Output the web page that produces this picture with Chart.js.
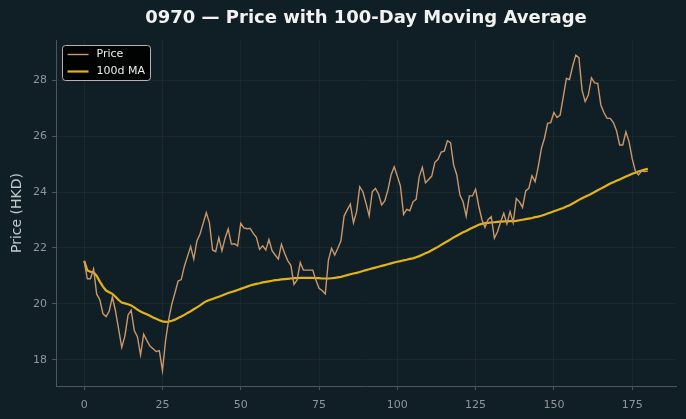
<!DOCTYPE html>
<html>
<head>
<meta charset="utf-8">
<script src="https://cdn.jsdelivr.net/npm/chart.js@4.4.1/dist/chart.umd.min.js"></script>
<style>
    html, body { margin: 0; padding: 0; background: #101f25; }
    #wrap { width: 686px; height: 419px; }
</style>
</head>
<body>
<div id="wrap"><canvas id="chart"></canvas></div>
<script>
    var TITLE = '0970 — Price with 100-Day Moving Average';
    var Y_LABEL = 'Price (HKD)';

    // daily close, day 0..180
    var price = [
        21.54, 20.9, 20.9, 21.25, 20.35, 20.15, 19.65, 19.55, 19.75, 20.25,
        19.75, 19.1, 18.45, 18.85, 19.6, 19.78, 19.05, 18.83, 18.18, 18.92,
        18.7, 18.5, 18.4, 18.3, 18.33, 17.62, 18.7, 19.45, 20.0, 20.4,
        20.82, 20.87, 21.35, 21.7, 22.05, 21.6, 22.25, 22.5, 22.88, 23.26,
        22.9, 21.93, 21.87, 22.37, 21.9, 22.35, 22.68, 22.14, 22.15, 22.08,
        22.88, 22.72, 22.69, 22.7, 22.52, 22.38, 21.95, 22.08, 21.93, 22.3,
        21.9, 21.75, 21.6, 22.13, 21.81, 21.55, 21.38, 20.7, 20.86, 21.48,
        21.21, 21.21, 21.21, 21.21, 20.86, 20.56, 20.48, 20.36, 21.57, 21.99,
        21.75, 21.99, 22.26, 23.14, 23.36, 23.57, 22.9, 23.3, 24.19, 24.01,
        23.6, 23.15, 24.01, 24.13, 23.93, 23.54, 23.68, 24.07, 24.61, 24.9,
        24.57, 24.21, 23.2, 23.38, 23.33, 23.65, 23.74, 24.55, 24.88, 24.33,
        24.45, 24.57, 25.06, 25.17, 25.43, 25.46, 25.83, 25.76, 24.96, 24.61,
        23.89, 23.65, 23.14, 23.86, 23.86, 24.1, 23.5, 23.02, 22.74, 23.02,
        23.12, 22.35, 22.58, 22.94, 23.24, 22.86, 23.3, 22.9, 23.77, 23.65,
        23.45, 24.04, 24.13, 24.58, 24.37, 24.9, 25.55, 25.92, 26.45, 26.48,
        26.84, 26.66, 26.75, 27.4, 28.06, 28.02, 28.5, 28.89, 28.8, 27.64,
        27.23, 27.46, 28.08, 27.9, 27.88, 27.11, 26.83, 26.63, 26.63, 26.48,
        26.19, 25.68, 25.68, 26.15, 25.8, 25.2, 24.75, 24.61, 24.75, 24.73,
        24.75
    ];

    // 100-day moving average
    var ma100 = [
        21.54, 21.2, 21.15, 21.13, 21.0, 20.8, 20.62, 20.48, 20.42, 20.36,
        20.26, 20.14, 20.05, 20.02, 19.99, 19.95, 19.88, 19.8, 19.73, 19.68,
        19.63, 19.58, 19.52, 19.47, 19.42, 19.38, 19.36, 19.37, 19.4, 19.44,
        19.5, 19.55, 19.61, 19.68, 19.74, 19.81, 19.88, 19.95, 20.03, 20.1,
        20.14, 20.18, 20.22, 20.26, 20.3, 20.35, 20.39, 20.43, 20.46, 20.5,
        20.54, 20.58, 20.62, 20.66, 20.69, 20.72, 20.74, 20.77, 20.79, 20.81,
        20.83, 20.85, 20.86, 20.88, 20.89, 20.9, 20.91, 20.92, 20.92, 20.93,
        20.93, 20.93, 20.93, 20.93, 20.92, 20.92, 20.91, 20.91, 20.91, 20.92,
        20.93, 20.95, 20.97, 21.0, 21.03, 21.06, 21.09, 21.11, 21.14, 21.18,
        21.21, 21.24, 21.27, 21.3, 21.33, 21.36, 21.39, 21.42, 21.45, 21.48,
        21.51, 21.53, 21.56, 21.58, 21.61, 21.63, 21.67, 21.71, 21.76, 21.81,
        21.86, 21.92, 21.98, 22.04, 22.11, 22.18, 22.24, 22.31, 22.38, 22.44,
        22.5, 22.56, 22.61, 22.67, 22.72, 22.78, 22.83, 22.86, 22.89, 22.9,
        22.91, 22.92, 22.93, 22.94, 22.95, 22.95, 22.96, 22.96, 22.97, 22.99,
        23.01, 23.03, 23.05, 23.07, 23.1, 23.12, 23.15, 23.19, 23.23, 23.27,
        23.31, 23.35, 23.39, 23.43, 23.48, 23.53, 23.59, 23.65, 23.72, 23.78,
        23.83, 23.88, 23.94, 24.0, 24.06, 24.12, 24.18, 24.24, 24.3, 24.35,
        24.4, 24.45, 24.5, 24.55, 24.6, 24.65, 24.69, 24.73, 24.77, 24.8,
        24.83
    ];

    var xTicks = [0, 25, 50, 75, 100, 125, 150, 175];
    var yTicks = [18, 20, 22, 24, 26, 28];

    var BG = '#101f25';
    var GRID = 'rgba(255,255,255,0.045)';
    var SPINE = '#4c565b';
    var TICK_TEXT = '#8e979b';

    function toPoints(values) {
        return values.map(function (v, i) {
            return {x: i, y: v};
        });
    }

    // paint the figure background
    var background = {
        id: 'background',
        beforeDraw: function (chart) {
            var ctx = chart.ctx;
            ctx.save();
            ctx.fillStyle = BG;
            ctx.fillRect(0, 0, chart.width, chart.height);
            ctx.restore();
        }
    };

    // title centred over the plot area, not the canvas
    var plotTitle = {
        id: 'plotTitle',
        afterDraw: function (chart) {
            var ctx = chart.ctx, area = chart.chartArea;
            ctx.save();
            ctx.fillStyle = '#f2f2f2';
            ctx.font = 'bold 18px "DejaVu Sans"';
            ctx.textAlign = 'center';
            ctx.textBaseline = 'middle';
            ctx.fillText(TITLE, (area.left + area.right) / 2, 18);
            ctx.restore();
        }
    };

    // boxed legend in the upper left corner of the plot
    var legendBox = {
        id: 'legendBox',
        afterDraw: function (chart) {
            var ctx = chart.ctx, area = chart.chartArea;
            var x = area.left + 6.5, y = area.top + 5.5, w = 88, h = 35;
            ctx.save();
            ctx.fillStyle = 'rgba(0,0,0,0.9)';
            ctx.strokeStyle = '#b4b4b4';
            ctx.lineWidth = 1;
            ctx.beginPath();
            ctx.roundRect(x, y, w, h, 3);
            ctx.fill();
            ctx.stroke();
            chart.data.datasets.forEach(function (ds, i) {
                var ly = y + 9 + i * 17;
                ctx.strokeStyle = ds.borderColor;
                ctx.lineWidth = ds.borderWidth;
                ctx.beginPath();
                ctx.moveTo(x + 5, ly);
                ctx.lineTo(x + 26, ly);
                ctx.stroke();
                ctx.fillStyle = '#ececec';
                ctx.font = '11px "DejaVu Sans"';
                ctx.textBaseline = 'middle';
                ctx.fillText(ds.label, x + 34, ly);
            });
            ctx.restore();
        }
    };

    var ctx = document.getElementById('chart');
    new Chart(ctx, {
        type: 'line',
        data: {
            datasets: [{
                label: 'Price',
                data: toPoints(price),
                borderColor: '#c9976b',
                borderWidth: 1.4,
                pointRadius: 0,
                tension: 0,
            }, {
                label: '100d MA',
                data: toPoints(ma100),
                borderColor: '#e3b414',
                borderWidth: 2.2,
                pointRadius: 0,
                tension: 0,
            }]
        },
        options: {
            responsive: true,
            maintainAspectRatio: false,
            animation: false,
            devicePixelRatio: 1,
            layout: {padding: {top: 40, right: 10, bottom: 0, left: 0}},
            plugins: {
                legend: {display: false},
                title: {display: false},
                tooltip: {enabled: false},
            },
            scales: {
                x: {
                    type: 'linear',
                    min: -9,
                    max: 189,
                    afterBuildTicks: function (scale) {
                        scale.ticks = xTicks.map(function (v) { return {value: v}; });
                    },
                    afterFit: function (scale) { scale.height = 33; },
                    grid: {color: GRID, tickColor: SPINE, tickLength: 4},
                    border: {color: SPINE, width: 1},
                    ticks: {
                        color: TICK_TEXT,
                        font: {family: 'DejaVu Sans', size: 11},
                        padding: 9,
                        maxRotation: 0,
                    },
                },
                y: {
                    min: 17.07,
                    max: 29.43,
                    afterBuildTicks: function (scale) {
                        scale.ticks = yTicks.map(function (v) { return {value: v}; });
                    },
                    afterFit: function (scale) { scale.width = 56; },
                    grid: {color: GRID, tickColor: SPINE, tickLength: 4},
                    border: {color: SPINE, width: 1},
                    ticks: {
                        color: TICK_TEXT,
                        font: {family: 'DejaVu Sans', size: 11},
                        padding: 5,
                    },
                    title: {
                        display: true,
                        text: Y_LABEL,
                        color: '#c3c9cc',
                        font: {family: 'DejaVu Sans', size: 14},
                        padding: {top: 9, bottom: 0},
                    },
                },
            },
        },
        plugins: [background, plotTitle, legendBox],
    });
</script>
</body>
</html>
